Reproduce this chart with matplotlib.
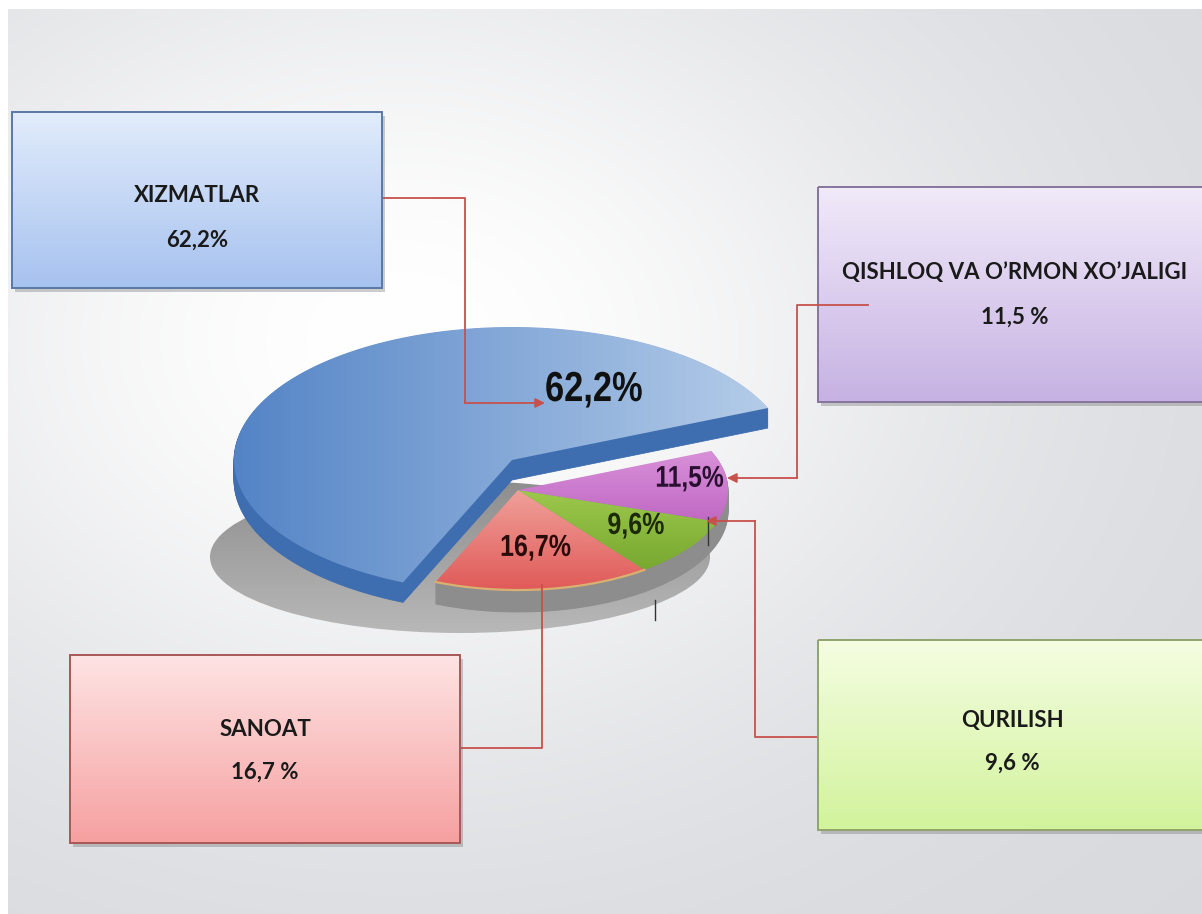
import numpy as np
import matplotlib.pyplot as plt
from matplotlib.patches import Polygon, Rectangle, Ellipse, PathPatch
from matplotlib.colors import LinearSegmentedColormap
from matplotlib.textpath import TextPath
from matplotlib.font_manager import FontProperties
from matplotlib.transforms import Affine2D

# data
sectors = ['XIZMATLAR', 'SANOAT', 'QURILISH', 'QISHLOQ VA O’RMON XO’JALIGI']
shares = [62.2, 16.7, 9.6, 11.5]
pie_labels = ['62,2%', '16,7%', '9,6%', '11,5%']
box_values = ['62,2%', '16,7 %', '9,6 %', '11,5 %']

W, H = 1202, 914
fig = plt.figure(figsize=(W / 100, H / 100), dpi=100)
ax = fig.add_axes([0, 0, 1, 1])
ax.set_xlim(0, W)
ax.set_ylim(H, 0)
ax.axis('off')

# background: grey with a soft light spot
yy, xx = np.mgrid[0:H, 0:W]
w = np.exp(-((xx - 400) / 580.0) ** 2 - ((yy - 340) / 430.0) ** 2)
base = np.array([0.845, 0.85, 0.865])
bg = base[None, None, :] + (1 - base[None, None, :]) * w[..., None]
bg[:9, :, :] = 1.0
bg[:, :8, :] = 1.0
ax.imshow(bg, extent=[0, W, H, 0], zorder=0, aspect='auto')


def grad_patch(patch, c0, c1, bbox, horizontal=False, z=2):
    ax.add_patch(patch)
    cmap = LinearSegmentedColormap.from_list('g', [c0, c1])
    g = np.linspace(0, 1, 256)
    g = g[None, :] if horizontal else g[:, None]
    x0, y0, x1, y1 = bbox
    im = ax.imshow(g, cmap=cmap, extent=[x0, x1, y1, y0], aspect='auto', zorder=z,
                   interpolation='bilinear')
    im.set_clip_path(patch)
    return im


def wedge_pts(cx, cy, rx, ry, a0, a1, n=120):
    t = np.radians(np.linspace(a0, a1, n))
    arc = np.column_stack([cx + rx * np.cos(t), cy - ry * np.sin(t)])
    return np.vstack([[cx, cy], arc, [cx, cy]]), arc


def extrude(pts, depth, color, z):
    for d in range(depth, 0, -1):
        ax.add_patch(Polygon(pts + [0, d], closed=True, fc=color, ec=color, lw=0.6, zorder=z))


def narrow_text(x, y, s, size, color, sx=0.82, z=9):
    # Arial-Narrow look: bold Liberation Sans squeezed sideways
    fp = FontProperties(family='Liberation Sans', weight='bold')
    tp = TextPath((0, 0), s, size=size, prop=fp)
    bb = tp.get_extents()
    tr = Affine2D().translate(-(bb.x0 + bb.x1) / 2, -0.358 * size).scale(sx, -1).translate(x, y)
    ax.add_patch(PathPatch(tr.transform_path(tp), fc=color, ec='none', zorder=z))


# pie angles
start = 23.0
bounds = start + 360.0 * np.concatenate([[0], np.cumsum(shares)]) / sum(shares)

# floor shadow
grad_patch(Ellipse((460, 557), 500, 152, fc='none', ec='none', zorder=1),
           '#8e8e8e', '#b8b8b8', (210, 481, 710, 633), horizontal=False, z=1)

# small slices (not exploded)
cx, cy, rx, ry = 518, 490, 210, 100
top_cols = [None, ('#f0a09a', '#e05a58'), ('#9cc84c', '#78a830'), ('#d890d8', '#c068c4')]
for i in range(1, 4):
    pts, arc = wedge_pts(cx, cy, rx, ry, bounds[i], bounds[i + 1])
    extrude(pts, 22, '#8d8d8d', 3)
for i in range(1, 4):
    pts, arc = wedge_pts(cx, cy, rx, ry, bounds[i], bounds[i + 1])
    p = Polygon(pts, closed=True, fc='none', ec='none', zorder=4)
    grad_patch(p, top_cols[i][0], top_cols[i][1],
               (pts[:, 0].min(), pts[:, 1].min(), pts[:, 0].max(), pts[:, 1].max()), z=4)
    if i == 1:
        ax.plot(arc[:, 0], arc[:, 1], color='#d8b070', lw=1.6, zorder=5)

# big exploded slice
bx, by, brx, bry = 512, 460, 278, 133
pts, arc = wedge_pts(bx, by, brx, bry, bounds[0], bounds[1], n=240)
extrude(pts, 20, '#3f6eb0', 6)
p = Polygon(pts, closed=True, fc='none', ec='none', zorder=7)
grad_patch(p, '#5484c6', '#b8cfea', (bx - brx, by - bry, bx + brx, by + bry), horizontal=True, z=7)

# labels on the slices
label_xy = [(594, 386), (536, 545), (636, 523), (690, 476)]
label_size = [42, 30.5, 30.5, 30]
label_col = ['#111111', '#2a0a0a', '#1c2a08', '#2a1030']
for t, (x, y), s, c in zip(pie_labels, label_xy, label_size, label_col):
    narrow_text(x, y, t, s, c)

# small leftover tick marks
ax.plot([655, 655], [600, 620], color='#333333', lw=1, zorder=8)
ax.plot([708, 708], [517, 545], color='#333333', lw=1, zorder=8)

# callout boxes
boxes = [(12, 112, 382, 288), (70, 655, 460, 843), (818, 640, 1205, 830), (818, 187, 1205, 402)]
box_cols = [('#e2ecfb', '#a6c2ef', '#5a78a6'), ('#fee4e4', '#f6a0a0', '#a85858'),
            ('#f5fde2', '#d2f39c', '#90a46c'), ('#f1eaf9', '#c6b2e3', '#86749c')]
text_pos = [(197, 196, 240), (265, 730, 772), (1012, 720, 763), (1015, 272, 317)]
for (x0, y0, x1, y1), (c0, c1, ec), name, val, (tx, ty1, ty2) in zip(boxes, box_cols, sectors,
                                                                    box_values, text_pos):
    ax.add_patch(Rectangle((x0 + 3, y0 + 4), x1 - x0, y1 - y0, fc='#707070', alpha=0.35, ec='none', zorder=10))
    r = Rectangle((x0, y0), x1 - x0, y1 - y0, fc='none', ec='none', zorder=11)
    grad_patch(r, c0, c1, (x0, y0, x1, y1), z=11)
    ax.add_patch(Rectangle((x0, y0), x1 - x0, y1 - y0, fc='none', ec=ec, lw=1.4, zorder=12))
    ax.text(tx, ty1, name, ha='center', va='center', fontsize=16, fontweight='bold',
            color='#1a1a1a', family='Lato', zorder=13)
    ax.text(tx, ty2, val, ha='center', va='center', fontsize=16, fontweight='bold',
            color='#1a1a1a', family='Lato', zorder=13)

# leader lines
red = '#c8504c'
leaders = [
    ([(382, 198), (465, 198), (465, 403)], (545, 403), 8),
    ([(460, 748), (542, 748), (542, 585)], None, 8),
    ([(818, 737), (755, 737), (755, 521)], (706, 521), 8),
    ([(868, 305), (797, 305), (797, 478)], (727, 478), 14),
]
for path, tip, z in leaders:
    xs, ys = zip(*path)
    ax.plot(xs, ys, color=red, lw=1.3, zorder=z)
    if tip is not None:
        ax.annotate('', xy=tip, xytext=path[-1], zorder=z,
                    arrowprops=dict(arrowstyle='-|>', color=red, lw=1.3, mutation_scale=14,
                                    shrinkA=0, shrinkB=0))

fig.savefig('out.png', dpi=100)
